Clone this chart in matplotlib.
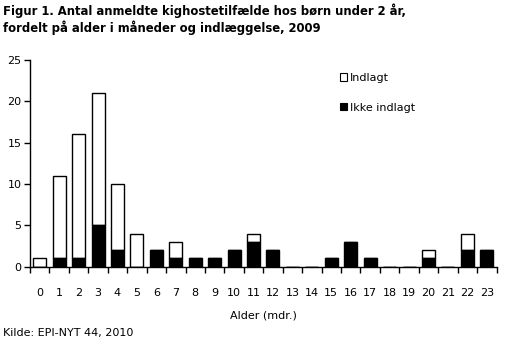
import numpy as np
import matplotlib
matplotlib.use("Agg")
import matplotlib.pyplot as plt
from matplotlib.patches import Patch

plt.rcParams.update({
    "font.family": ["DejaVu Sans"],
    "font.size": 8,
})

# ─── data ────────────────────────────────────────
months = list(range(24))
ikke_indlagt = [0, 1, 1, 5, 2, 0, 2, 1, 1, 1, 2, 3, 2, 0, 0, 1, 3, 1, 0, 0, 1, 0, 2, 2]
indlagt = [1, 10, 15, 16, 8, 4, 0, 2, 0, 0, 0, 1, 0, 0, 0, 0, 0, 0, 0, 0, 1, 0, 2, 0]
yticks = [0, 5, 10, 15, 20, 25]

fig = plt.figure(figsize=(5.13, 3.52), dpi=100)
ax = fig.add_axes([30 / 513, 1 - 266.7 / 352, 466.5 / 513, 206.7 / 352])

x = np.array(months)
ax.bar(x, ikke_indlagt, width=0.67, color="black", edgecolor="black", linewidth=1, zorder=3)
ax.bar(x, indlagt, width=0.67, bottom=ikke_indlagt, color="white",
       edgecolor="black", linewidth=1, zorder=2)

ax.set_xlim(-0.5, 23.5)
ax.set_ylim(0, 25)
ax.set_yticks(yticks)
ax.set_xticks(np.arange(-0.5, 24, 1))
ax.set_xticklabels([])
ax.set_xticks(x, minor=True)
ax.set_xticklabels([str(m) for m in months], minor=True)
ax.tick_params(axis="x", which="major", direction="out", length=4, width=1)
ax.tick_params(axis="x", which="minor", length=0, pad=15, labelsize=8)
ax.tick_params(axis="y", direction="out", length=4, width=1, pad=2, labelsize=8)
for s in ["top", "right"]:
    ax.spines[s].set_visible(False)
ax.spines["left"].set_linewidth(1)
ax.spines["bottom"].set_linewidth(1)

ax.set_xlabel("Alder (mdr.)", fontsize=8, labelpad=9)

handles = [Patch(facecolor="white", edgecolor="black", linewidth=0.8, label="Indlagt"),
           Patch(facecolor="black", edgecolor="black", linewidth=0.8, label="Ikke indlagt")]
ax.legend(handles=handles, loc="upper left", bbox_to_anchor=(0.643, 0.985), frameon=False,
          handlelength=0.65, handleheight=0.65, handletextpad=0.25, labelspacing=1.75, fontsize=8)

fig.text(3 / 513, 1 - 3 / 352,
         "Figur 1. Antal anmeldte kighostetilfælde hos børn under 2 år,\n"
         "fordelt på alder i måneder og indlæggelse, 2009",
         ha="left", va="top", fontsize=8.4, fontweight="bold", linespacing=1.25)
fig.text(3 / 513, 1 - 333 / 352, "Kilde: EPI-NYT 44, 2010", ha="left", va="center", fontsize=8)

fig.savefig("out.png", dpi=100)
